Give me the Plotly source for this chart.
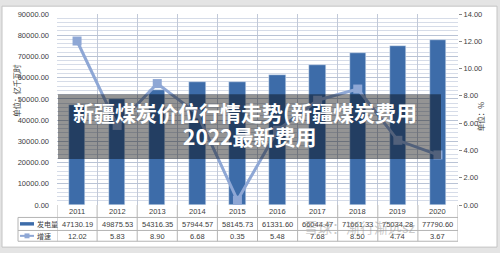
import plotly.graph_objects as go

years = ["2011", "2012", "2013", "2014", "2015", "2016", "2017", "2018", "2019", "2020"]
power = [47130.19, 49875.53, 54316.35, 57944.57, 58145.73, 61331.60, 66044.47, 71661.33, 75034.28, 77790.60]
growth = [12.02, 5.83, 8.90, 6.68, 0.35, 5.48, 7.68, 8.50, 4.74, 3.67]
power_name = "发电量"
growth_name = "增速"
title_line1 = "新疆煤炭价位行情走势(新疆煤炭费用"
title_line2 = "2022最新费用"
left_title = "单位：亿千瓦时"
right_title = "单位：%"
watermark = "雪球：渐行渐远sz"

W, H = 500, 253
L, R, T, B = 57, 458, 10, 205
PW, PH = R - L, B - T


def px(x):
    return (x - L) / PW


def py(y):
    return (B - y) / PH


CJK = "Noto Sans CJK SC"
NUM = "Liberation Sans"
BAR_C = "#3D6CA9"
LINE_C = "#8EA7D5"
TXT_C = "#404040"
TBL_C = "#B4B4B4"

idx = list(range(len(years)))

fig = go.Figure()
fig.add_bar(x=idx, y=power, name=power_name, marker_color=BAR_C, width=0.41, yaxis="y")
fig.add_scatter(x=idx, y=growth, name=growth_name, yaxis="y2", mode="lines+markers",
                line=dict(color=LINE_C, width=3),
                marker=dict(symbol="square", size=9, color=LINE_C))

shapes = []
# outer frame
shapes.append(dict(type="rect", xref="paper", yref="paper", layer="below",
                   x0=px(2), x1=px(497), y0=py(248), y1=py(2),
                   fillcolor="white", line=dict(color="#C4C4C4", width=1)))
# table horizontal lines
for yy in [217.7, 231, 242]:
    shapes.append(dict(type="line", xref="paper", yref="paper", x0=px(18), x1=1,
                       y0=py(yy), y1=py(yy), line=dict(color=TBL_C, width=1)))
# table vertical lines
shapes.append(dict(type="line", xref="paper", yref="paper", x0=px(18), x1=px(18),
                   y0=py(217.7), y1=py(242), line=dict(color=TBL_C, width=1)))
for xv in [-0.5 + k for k in range(len(years) + 1)]:
    shapes.append(dict(type="line", xref="x", yref="paper", x0=xv, x1=xv,
                       y0=0, y1=py(242), line=dict(color=TBL_C, width=1)))
# legend swatches in table
shapes.append(dict(type="rect", xref="paper", yref="paper", x0=px(20), x1=px(34),
                   y0=py(226), y1=py(222.5), fillcolor=BAR_C, line=dict(width=0)))
shapes.append(dict(type="line", xref="paper", yref="paper", x0=px(20), x1=px(34),
                   y0=py(236.5), y1=py(236.5), line=dict(color=LINE_C, width=2)))
shapes.append(dict(type="rect", xref="paper", yref="paper", x0=px(24.5), x1=px(29.5),
                   y0=py(239), y1=py(234), fillcolor=LINE_C, line=dict(width=0)))
# dark overlay band
shapes.append(dict(type="rect", xref="paper", yref="paper", layer="above",
                   x0=px(58), x1=px(441), y0=py(158), y1=py(92),
                   fillcolor="rgba(0,0,0,0.42)", line=dict(width=0)))

ann = []
for i, yr in enumerate(years):
    ann.append(dict(x=i, xref="x", y=py(211.5), yref="paper", text=yr, showarrow=False,
                    font=dict(size=7.5, color=TXT_C, family=NUM), yanchor="middle"))
    ann.append(dict(x=i, xref="x", y=py(224.5), yref="paper", text=f"{power[i]:.2f}",
                    showarrow=False, font=dict(size=7.5, color=TXT_C, family=NUM), yanchor="middle"))
    ann.append(dict(x=i, xref="x", y=py(236.7), yref="paper", text=f"{growth[i]:.2f}",
                    showarrow=False, font=dict(size=7.5, color=TXT_C, family=NUM), yanchor="middle"))
ann.append(dict(x=px(34.5), xref="paper", y=py(224.3), yref="paper", text=power_name,
                showarrow=False, xanchor="left", yanchor="middle",
                font=dict(size=7, color=TXT_C, family=CJK)))
ann.append(dict(x=px(35), xref="paper", y=py(237), yref="paper", text=growth_name,
                showarrow=False, xanchor="left", yanchor="middle",
                font=dict(size=7, color=TXT_C, family=CJK)))
ann.append(dict(x=px(9), xref="paper", y=py(88), yref="paper", text=left_title,
                showarrow=False, textangle=-90, font=dict(size=7.5, color=TXT_C, family=CJK)))
ann.append(dict(x=px(488), xref="paper", y=py(115), yref="paper", text=right_title,
                showarrow=False, textangle=-90, font=dict(size=7.5, color=TXT_C, family=CJK)))
ann.append(dict(x=px(245), xref="paper", y=py(110), yref="paper", text=f"<b>{title_line1}</b>",
                showarrow=False, font=dict(size=21, color="white", family=CJK)))
ann.append(dict(x=px(250), xref="paper", y=py(135), yref="paper", text=f"<b>{title_line2}</b>",
                showarrow=False, font=dict(size=21, color="white", family=CJK)))
ann.append(dict(x=px(418), xref="paper", y=py(239.5), yref="paper", text=watermark,
                showarrow=False, font=dict(size=14, color="rgba(150,150,150,0.5)", family=CJK)))

fig.update_layout(
    width=W, height=H,
    margin=dict(l=L, r=W - R, t=T, b=H - B),
    paper_bgcolor="#E4E4E4",
    plot_bgcolor="#EEF1F7",
    showlegend=False,
    bargap=0,
    font=dict(family=NUM, size=7.5, color=TXT_C),
    xaxis=dict(range=[-0.5, len(years) - 0.5], tickvals=[k + 0.5 for k in range(len(years) - 1)],
               showticklabels=False, showgrid=True, gridcolor="#C2C9D8", gridwidth=1,
               zeroline=False, ticks="", fixedrange=True),
    yaxis=dict(range=[0, 90000], dtick=10000, tickformat=".2f", showgrid=True,
               gridcolor="#B9C3D5", gridwidth=1, zeroline=False, ticks="",
               ticklabelstandoff=7, tickfont=dict(size=7.5, color=TXT_C, family=NUM),
               minor=dict(dtick=2000, showgrid=True, gridcolor="#D6DCE8", gridwidth=1)),
    yaxis2=dict(range=[0, 14], dtick=2, tickformat=".2f", overlaying="y", side="right",
                showgrid=False, zeroline=False, ticks="outside", ticklen=3,
                tickcolor="#888888", tickfont=dict(size=7.5, color=TXT_C, family=NUM)),
    shapes=shapes,
    annotations=ann,
)

fig.write_html("out.html")
